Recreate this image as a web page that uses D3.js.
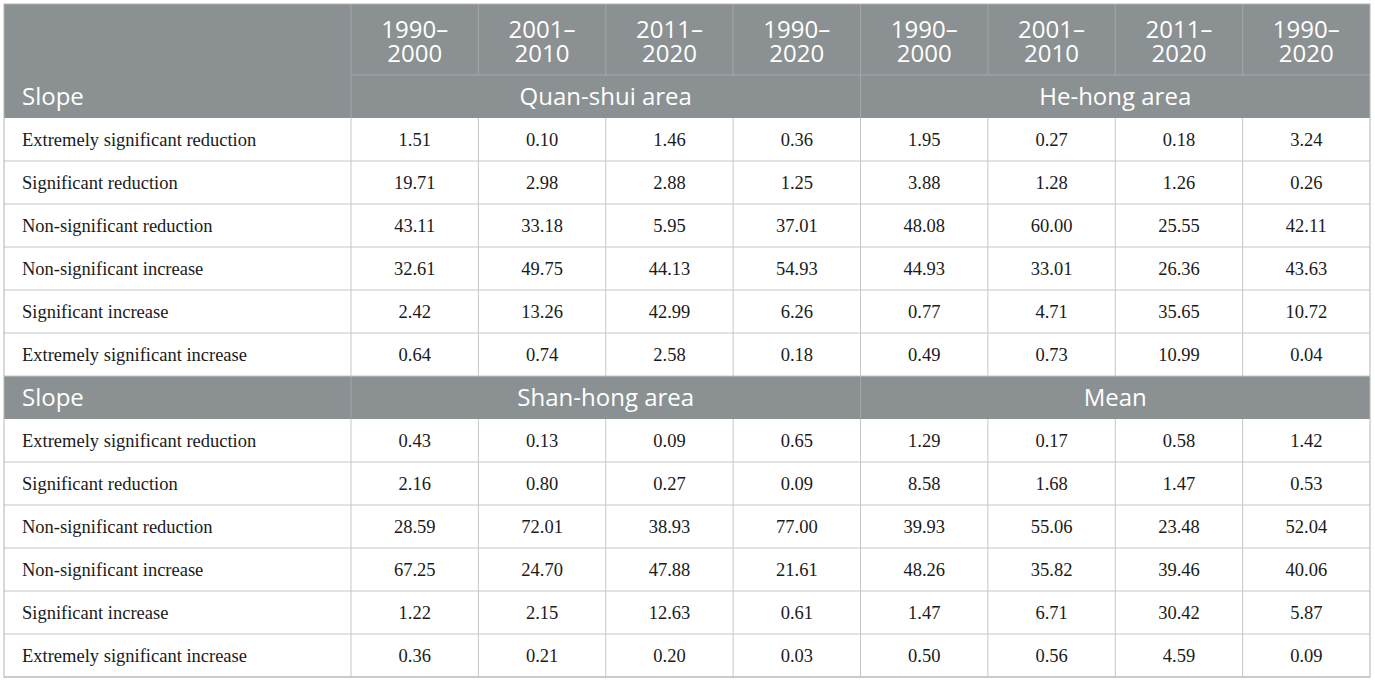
<!DOCTYPE html>
<html>
<head>
<meta charset="utf-8">
<script src="https://cdn.jsdelivr.net/npm/d3@7"></script>
<style>
  body { margin: 0; background: #fff; }
  .hdr { font-family: "Open Sans", sans-serif; fill: #fff; }
  .cell { font-family: "Liberation Serif", serif; fill: #1a1a1a; }
</style>
</head>
<body>
<div id="chart"></div>
<script>
// slope classes (row labels)
const slopeClasses = [
    'Extremely significant reduction',
    'Significant reduction',
    'Non-significant reduction',
    'Non-significant increase',
    'Significant increase',
    'Extremely significant increase'
];

const periods = [['1990–', '2000'], ['2001–', '2010'], ['2011–', '2020'], ['1990–', '2020']];

const areas = ['Quan-shui area', 'He-hong area', 'Shan-hong area', 'Mean'];

// % per slope class, columns follow periods
const quanShui = [
    [1.51, 0.10, 1.46, 0.36],
    [19.71, 2.98, 2.88, 1.25],
    [43.11, 33.18, 5.95, 37.01],
    [32.61, 49.75, 44.13, 54.93],
    [2.42, 13.26, 42.99, 6.26],
    [0.64, 0.74, 2.58, 0.18]
];
const heHong = [
    [1.95, 0.27, 0.18, 3.24],
    [3.88, 1.28, 1.26, 0.26],
    [48.08, 60.00, 25.55, 42.11],
    [44.93, 33.01, 26.36, 43.63],
    [0.77, 4.71, 35.65, 10.72],
    [0.49, 0.73, 10.99, 0.04]
];
const shanHong = [
    [0.43, 0.13, 0.09, 0.65],
    [2.16, 0.80, 0.27, 0.09],
    [28.59, 72.01, 38.93, 77.00],
    [67.25, 24.70, 47.88, 21.61],
    [1.22, 2.15, 12.63, 0.61],
    [0.36, 0.21, 0.20, 0.03]
];
const meanArea = [
    [1.29, 0.17, 0.58, 1.42],
    [8.58, 1.68, 1.47, 0.53],
    [39.93, 55.06, 23.48, 52.04],
    [48.26, 35.82, 39.46, 40.06],
    [1.47, 6.71, 30.42, 5.87],
    [0.50, 0.56, 4.59, 0.09]
];

const width = 1375, height = 682;
const leftX = 4, rightX = 1370, firstColRight = 351;
const topY = 4, hdrSplit = 75, hdrBottom = 118, bottomY = 677;
const headerFill = '#8b9093', headerLine = '#a3a7aa', gridLine = '#c6c6c6';
const hdrSize = 24, cellSize = 18.5;

const svg = d3.select('#chart').append('svg')
    .attr('width', width)
    .attr('height', height);

// 8 value columns: 4 periods x 2 areas side by side
const colKeys = d3.range(8);
const x = d3.scaleBand(colKeys, [firstColRight, rightX]);

// body rows: 6 classes, a "Slope" band, 6 classes
const rowKeys = d3.range(13);
const y = d3.scaleBand(rowKeys, [hdrBottom, bottomY]);

// build the two blocks of body rows
const blocks = [
    { areas: [0, 1], data: [quanShui, heHong] },
    { areas: [2, 3], data: [shanHong, meanArea] }
];
const bodyRows = [];
const bandRows = [];
blocks.forEach((b, bi) => {
    if (bi > 0) bandRows.push({ row: 6, areas: b.areas });
    slopeClasses.forEach((label, ci) => {
        const vals = b.data[0][ci].concat(b.data[1][ci]);
        bodyRows.push({ row: bi * 7 + ci, label, vals });
    });
});

// ---- top header background
svg.append('rect')
    .attr('x', leftX).attr('y', topY)
    .attr('width', rightX - leftX).attr('height', hdrBottom - topY)
    .attr('fill', headerFill);

// header dividers
svg.append('line')
    .attr('x1', firstColRight).attr('x2', rightX)
    .attr('y1', hdrSplit).attr('y2', hdrSplit)
    .attr('stroke', headerLine);
svg.selectAll('line.hv')
    .data(colKeys)
    .join('line')
    .attr('class', 'hv')
    .attr('x1', d => x(d)).attr('x2', d => x(d))
    .attr('y1', topY).attr('y2', d => (d % 4 === 0 ? hdrBottom : hdrSplit))
    .attr('stroke', headerLine);

// period labels, two lines each
[0, 1].forEach(line => {
    svg.append('g').selectAll('text')
        .data(colKeys)
        .join('text')
        .attr('class', 'hdr')
        .attr('text-anchor', 'middle')
        .attr('font-size', hdrSize)
        .attr('x', d => x(d) + x.bandwidth() / 2)
        .attr('y', 38 + line * 24)
        .text(d => periods[d % 4][line]);
});

// "Slope" + area names
function areaHeader(rowTop, rowBottom, areaIdx) {
    const cy = (rowTop + rowBottom) / 2 + 8;
    svg.append('text')
        .attr('class', 'hdr')
        .attr('x', 22).attr('y', cy)
        .attr('font-size', hdrSize)
        .text('Slope');
    areaIdx.forEach((a, i) => {
        svg.append('text')
            .attr('class', 'hdr')
            .attr('text-anchor', 'middle')
            .attr('x', (x(i * 4) + x(i * 4 + 3) + x.bandwidth()) / 2)
            .attr('y', cy)
            .attr('font-size', hdrSize)
            .text(areas[a]);
    });
}
areaHeader(hdrSplit, hdrBottom, blocks[0].areas);

// ---- middle "Slope" band
bandRows.forEach(b => {
    const y0 = y(b.row), y1 = y(b.row) + y.bandwidth();
    svg.append('rect')
        .attr('x', leftX).attr('y', y0)
        .attr('width', rightX - leftX).attr('height', y.bandwidth())
        .attr('fill', headerFill);
    [x(0), x(4)].forEach(xx => {
        svg.append('line')
            .attr('x1', xx).attr('x2', xx)
            .attr('y1', y0).attr('y2', y1)
            .attr('stroke', headerLine);
    });
    areaHeader(y0, y1, b.areas);
});

// ---- body grid lines
svg.append('g').selectAll('line')
    .data(bodyRows)
    .join('line')
    .attr('x1', leftX).attr('x2', rightX)
    .attr('y1', d => y(d.row) + y.bandwidth())
    .attr('y2', d => y(d.row) + y.bandwidth())
    .attr('stroke', gridLine);
blocks.forEach((b, bi) => {
    const y0 = y(bi * 7), y1 = y(bi * 7 + 5) + y.bandwidth();
    svg.append('g').selectAll('line')
        .data(colKeys)
        .join('line')
        .attr('x1', d => x(d)).attr('x2', d => x(d))
        .attr('y1', y0).attr('y2', y1)
        .attr('stroke', gridLine);
});

// ---- body text
const rowG = svg.append('g').selectAll('g')
    .data(bodyRows)
    .join('g')
    .attr('transform', d => `translate(0, ${y(d.row) + y.bandwidth() / 2 + 6.5})`);
rowG.append('text')
    .attr('class', 'cell')
    .attr('x', 22)
    .attr('font-size', cellSize)
    .text(d => d.label);
rowG.selectAll('text.v')
    .data(d => d.vals)
    .join('text')
    .attr('class', 'cell v')
    .attr('text-anchor', 'middle')
    .attr('x', (d, i) => x(i) + x.bandwidth() / 2)
    .attr('font-size', cellSize)
    .text(d => d.toFixed(2));

// ---- outer border
svg.append('rect')
    .attr('x', leftX).attr('y', topY)
    .attr('width', rightX - leftX).attr('height', bottomY - topY)
    .attr('fill', 'none')
    .attr('stroke', '#b4b4b4');
</script>
</body>
</html>
